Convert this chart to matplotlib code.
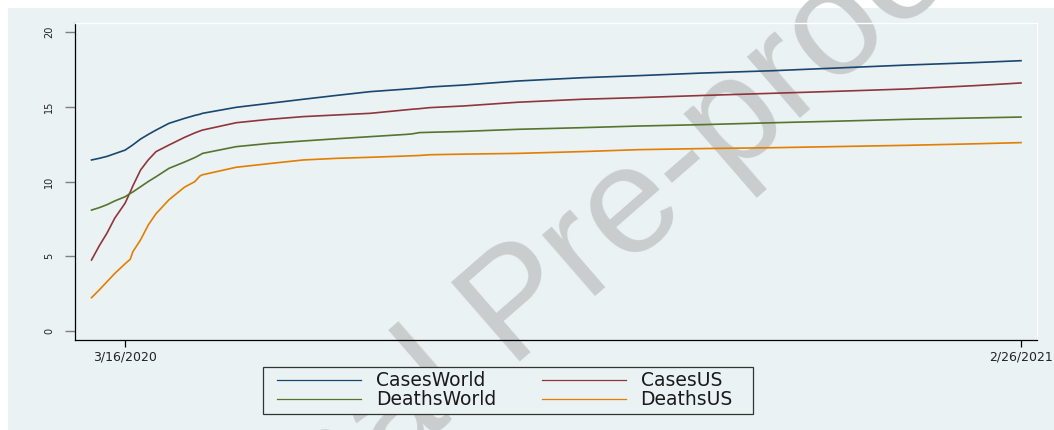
import pandas as pd
import matplotlib
matplotlib.use("Agg")
import matplotlib.pyplot as plt
from matplotlib.patches import Rectangle

dates = ['2020-03-03', '2020-03-06', '2020-03-09', '2020-03-12', '2020-03-16',
         '2020-03-18', '2020-03-19', '2020-03-22', '2020-03-25', '2020-03-28',
         '2020-04-02', '2020-04-08', '2020-04-12', '2020-04-14', '2020-04-15',
         '2020-04-28', '2020-05-11', '2020-05-24', '2020-06-06', '2020-06-19',
         '2020-07-02', '2020-07-05', '2020-07-08', '2020-07-12', '2020-07-25',
         '2020-08-15', '2020-09-09', '2020-10-01', '2020-10-25', '2020-11-22',
         '2020-12-18', '2021-01-13', '2021-02-08', '2021-02-26']

cases_world = [11.44, 11.55, 11.68, 11.86, 12.10, 12.33, 12.45, 12.84, 13.15, 13.44,
               13.89, 14.22, 14.42, 14.50, 14.56, 14.96, 15.23, 15.50, 15.76, 16.01,
               16.17, 16.21, 16.25, 16.32, 16.45, 16.72, 16.94, 17.08, 17.25, 17.41,
               17.60, 17.79, 17.95, 18.08]
cases_us = [4.75, 5.70, 6.55, 7.55, 8.55, 9.30, 9.70, 10.77, 11.45, 12.00,
            12.44, 12.95, 13.25, 13.38, 13.44, 13.93, 14.16, 14.34, 14.45, 14.56,
            14.78, 14.83, 14.87, 14.94, 15.05, 15.30, 15.50, 15.61, 15.75, 15.90,
            16.04, 16.19, 16.41, 16.59]
deaths_world = [8.09, 8.25, 8.45, 8.70, 8.98, 9.20, 9.30, 9.65, 10.00, 10.32,
                10.88, 11.30, 11.60, 11.78, 11.88, 12.33, 12.55, 12.71, 12.86, 13.00,
                13.14, 13.18, 13.27, 13.29, 13.35, 13.49, 13.60, 13.71, 13.80, 13.93,
                14.04, 14.16, 14.25, 14.31]
deaths_us = [2.23, 2.75, 3.30, 3.85, 4.50, 4.80, 5.30, 6.10, 7.10, 7.85,
             8.78, 9.62, 9.99, 10.37, 10.45, 10.95, 11.20, 11.44, 11.55, 11.62,
             11.70, 11.72, 11.74, 11.79, 11.83, 11.88, 12.00, 12.13, 12.20, 12.26,
             12.34, 12.42, 12.52, 12.60]

xtick_dates = ['2020-03-16', '2021-02-26']
xtick_labels = ['3/16/2020', '2/26/2021']
yticks = [0, 5, 10, 15, 20]

bg = '#EAF2F3'
W, H = 1054, 430
x = pd.to_datetime(dates)

fig = plt.figure(figsize=(10.54, 4.3), dpi=100, facecolor='white')
# stata-like graph region, white margin at top/left
fig.patches.append(Rectangle((8 / W, 0), 1, (H - 8) / H, transform=fig.transFigure,
                             facecolor=bg, edgecolor='none', zorder=-5))

ax = fig.add_axes([75 / W, 90 / H, (1037 - 75) / W, (340 - 23) / H])
ax.set_facecolor(bg)

l1, = ax.plot(x, cases_world, color='#1A476F', lw=1.2, label='CasesWorld')
l2, = ax.plot(x, cases_us, color='#90353B', lw=1.2, label='CasesUS')
l3, = ax.plot(x, deaths_world, color='#55752F', lw=1.2, label='DeathsWorld')
l4, = ax.plot(x, deaths_us, color='#E37E00', lw=1.2, label='DeathsUS')

t0 = pd.Timestamp('2020-03-16')
ax.set_xlim(t0 - pd.Timedelta(days=19.4), t0 + pd.Timedelta(days=353.2))
ax.set_ylim(-0.6, 20.6)

ax.set_xticks(pd.to_datetime(xtick_dates))
ax.set_xticklabels(xtick_labels, fontsize=9, color='#222222')
ax.set_yticks(yticks)
ax.set_yticklabels([str(v) for v in yticks], fontsize=7, rotation=90, va='center',
                   color='#222222')
ax.tick_params(axis='x', length=5, width=0.9, color='black', pad=2.5)
ax.tick_params(axis='y', length=7.5, width=1.0, color='#808080', pad=7.5)

for side in ['top', 'right']:
    ax.spines[side].set_color('white')
    ax.spines[side].set_linewidth(1.0)
for side in ['left', 'bottom']:
    ax.spines[side].set_color('black')
    ax.spines[side].set_linewidth(0.9)

# watermark
ax.text(0.518, 0.212, 'Journal Pre-proof', transform=fig.transFigure,
        fontsize=110, family='Liberation Sans', color='#C9CDCD', rotation=41,
        rotation_mode='anchor', ha='center', va='baseline', zorder=1, clip_on=False)

# legend box drawn by hand so the padding matches
ax.add_patch(Rectangle((263 / W, (H - 414) / H), (753 - 263) / W, (414 - 367) / H,
                       transform=fig.transFigure, facecolor=bg, edgecolor='#333333',
                       lw=0.9, zorder=4, clip_on=False))
leg = ax.legend([l1, l3, l2, l4], ['CasesWorld', 'DeathsWorld', 'CasesUS', 'DeathsUS'],
                ncol=2, loc='center', bbox_to_anchor=(505 / W, (H - 390.4) / H),
                bbox_transform=fig.transFigure, fontsize=13.5, frameon=False,
                handlelength=4.48, handletextpad=0.8, columnspacing=2.4,
                labelspacing=0.0, borderpad=0.0)
leg.set_zorder(5)
for h in leg.get_lines():
    h.set_linewidth(0.9)
for t in leg.get_texts():
    t.set_color('#1a1a1a')

fig.savefig('out.png', dpi=100, facecolor=fig.get_facecolor())
